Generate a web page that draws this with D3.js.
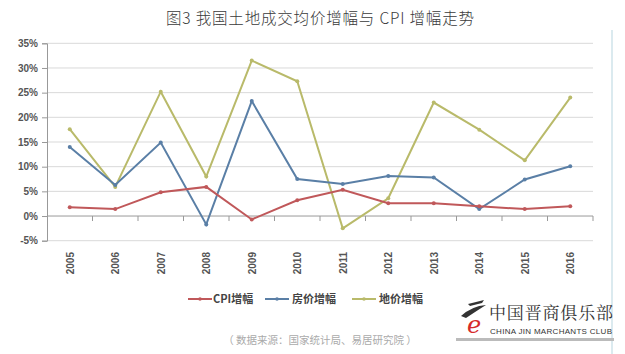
<!DOCTYPE html>
<html><head><meta charset="utf-8">
<script src="https://cdn.jsdelivr.net/npm/d3@7"></script>
<style>
body{margin:0;background:#fff;}
svg{display:block;}
</style></head>
<body>
<svg id="c" width="625" height="354"></svg>
<script>
const years = ["2005","2006","2007","2008","2009","2010","2011","2012","2013","2014","2015","2016"];
const cpi   = [1.8, 1.4, 4.8, 5.9, -0.7, 3.2, 5.3, 2.6, 2.6, 2.0, 1.4, 2.0];
const house = [14.0, 6.3, 14.9, -1.7, 23.3, 7.5, 6.5, 8.1, 7.8, 1.4, 7.4, 10.1];
const land  = [17.6, 5.9, 25.2, 8.0, 31.5, 27.3, -2.5, 3.6, 23.0, 17.5, 11.3, 24.0];
const yTicks = [-5, 0, 5, 10, 15, 20, 25, 30, 35];
const seriesNames = ["CPI增幅", "房价增幅", "地价增幅"];
const colors = ["#c0585a", "#5a7fa6", "#b9ba6a"];

const svg = d3.select("#c");
const cjk = "'Noto Sans CJK SC', 'Liberation Sans', sans-serif";

// title
svg.append("text").attr("x", 320).attr("y", 24).attr("text-anchor","middle")
  .attr("font-family", cjk).attr("font-size", 15.5).attr("font-weight", 300).attr("fill","#3a3a3a")
  .attr("textLength", 308)
  .text("图3  我国土地成交均价增幅与 CPI 增幅走势");

// right border
svg.append("line").attr("x1",612).attr("x2",612).attr("y1",30).attr("y2",354)
  .attr("stroke","#cfe3ea").attr("stroke-width",1.5);

const x0 = 47, x1 = 593;
const xb = d3.scaleBand().domain(years).range([x0, x1]);
const x = d => xb(d) + xb.bandwidth()/2;
const y = d3.scaleLinear().domain([-5, 35]).range([240.7, 43.3]);

// grid
svg.append("g").selectAll("line").data(yTicks.filter(t => t !== 0 && t !== -5)).join("line")
  .attr("x1", x0).attr("x2", x1).attr("y1", d => y(d)).attr("y2", d => y(d))
  .attr("stroke", "#d9d9d9").attr("stroke-width", 1);
svg.append("line").attr("x1", x0).attr("x2", x1).attr("y1", y(-5)).attr("y2", y(-5))
  .attr("stroke", "#d9d9d9");

// y axis
const yAxis = d3.axisLeft(y).tickValues(yTicks).tickSize(5).tickFormat(d => d + "%");
const ga = svg.append("g").attr("transform", `translate(${x0},0)`).call(yAxis);
ga.select(".domain").attr("stroke", "#999");
ga.selectAll(".tick line").attr("stroke", "#999");
ga.selectAll(".tick text").attr("font-family","'Liberation Sans', Arial, sans-serif")
  .attr("font-size", 10).attr("font-weight","bold").attr("fill","#555").attr("x", -9);

// zero line with category ticks
svg.append("line").attr("x1", x0).attr("x2", x1).attr("y1", y(0)).attr("y2", y(0))
  .attr("stroke", "#999");
svg.append("g").selectAll("line").data(years.slice(1).concat(["end"])).join("line")
  .attr("x1", (d,i) => x0 + xb.bandwidth()*(i+1)).attr("x2", (d,i) => x0 + xb.bandwidth()*(i+1))
  .attr("y1", y(0)).attr("y2", y(0)+5).attr("stroke","#999");

// x labels
svg.append("g").selectAll("text").data(years).join("text")
  .attr("transform", d => `translate(${x(d)+4},252) rotate(-90)`)
  .attr("text-anchor","end")
  .attr("font-family","'Liberation Sans', Arial, sans-serif")
  .attr("font-size", 10).attr("font-weight","bold").attr("fill","#555")
  .text(d => d);

// lines
const allSeries = [cpi, house, land];
const line = d3.line().x((d,i) => x(years[i])).y(d => y(d));
[2,1,0].forEach(k => {
  svg.append("path").datum(allSeries[k]).attr("d", line)
    .attr("fill","none").attr("stroke", colors[k]).attr("stroke-width", 2)
    .attr("stroke-linejoin","miter");
  svg.append("g").selectAll("circle").data(allSeries[k]).join("circle")
    .attr("cx", (d,i) => x(years[i])).attr("cy", d => y(d)).attr("r", 2)
    .attr("fill", colors[k]);
});

// legend
const legX = [188, 265, 352];
seriesNames.forEach((n, k) => {
  const g = svg.append("g");
  g.append("line").attr("x1", legX[k]).attr("x2", legX[k]+24).attr("y1", 299).attr("y2", 299)
    .attr("stroke", colors[k]).attr("stroke-width", 2);
  g.append("circle").attr("cx", legX[k]+12).attr("cy", 299).attr("r", 1.8).attr("fill", colors[k]);
  g.append("text").attr("x", legX[k]+25 + (k===0?0:2)).attr("y", 303)
    .attr("font-family", cjk).attr("font-size", 11).attr("font-weight","bold").attr("fill","#444")
    .text(n);
});

// source
svg.append("text").attr("x", 320).attr("y", 344).attr("text-anchor","middle")
  .attr("font-family", cjk).attr("font-size", 10.5).attr("fill","#aaa")
  .text("（ 数据来源：国家统计局、易居研究院 ）");

// logo
const lg = svg.append("g");
lg.append("rect").attr("x", 456).attr("y", 338).attr("width", 158).attr("height", 3).attr("fill", "#bbb");
lg.append("path").attr("d", "M461,316 Q472,306 486,305 Q478,310 466,318 Z").attr("fill","#333");
lg.append("path").attr("d", "M468,304 L484,300 L482,303 L470,306 Z").attr("fill","#333");
lg.append("text").attr("x", 474).attr("y", 333).attr("text-anchor","middle")
  .attr("font-family","'DejaVu Serif', serif").attr("font-style","italic").attr("font-size", 24)
  .attr("fill","#d62b2b").text("e");
lg.append("text").attr("x", 551).attr("y", 319).attr("text-anchor","middle")
  .attr("font-family","'Noto Serif CJK SC', 'Noto Sans CJK SC', serif").attr("font-size", 17).attr("fill","#333")
  .attr("textLength", 124).text("中国晋商俱乐部");
lg.append("text").attr("x", 551).attr("y", 334).attr("text-anchor","middle")
  .attr("font-family","'Liberation Sans', Arial, sans-serif").attr("font-size", 8)
  .attr("fill","#333").attr("textLength", 122).text("CHINA JIN MARCHANTS CLUB");
</script>
</body></html>
